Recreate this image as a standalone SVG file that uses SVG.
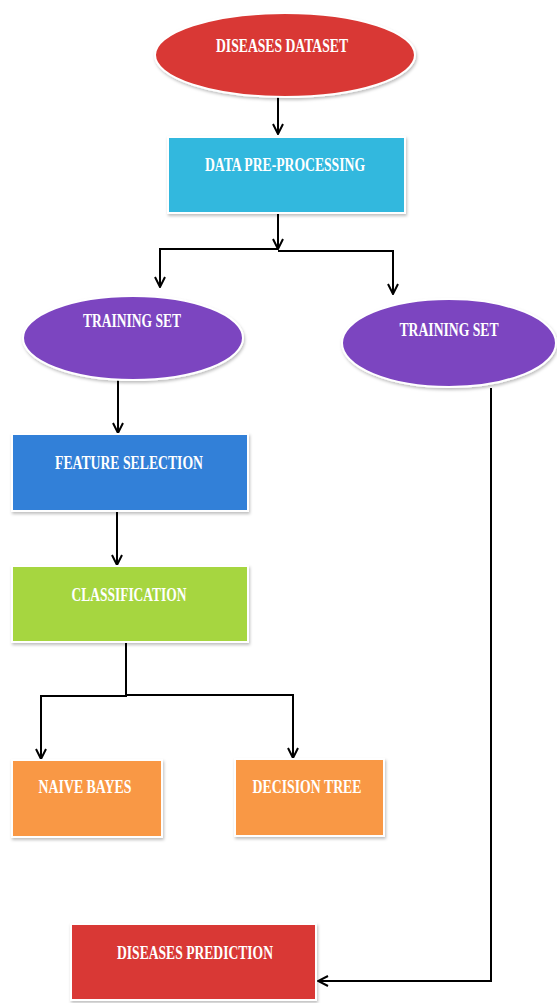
<svg xmlns="http://www.w3.org/2000/svg" width="557" height="1003" viewBox="0 0 557 1003">
  <style>
    .node { stroke: #ffffff; stroke-width: 2; filter: url(#shadow); }
    .lbl { font-family: "Liberation Serif", "Times New Roman", serif; font-weight: bold; font-size: 18px; fill: #ffffff; text-anchor: middle; }
    .wire { fill: none; stroke: #000000; stroke-width: 2; }
    .red { fill: #D93934; }
    .cyan { fill: #33B8DE; }
    .purple { fill: #7C45C0; }
    .blue { fill: #3380D8; }
    .green { fill: #A6D640; }
    .orange { fill: #F99844; }
  </style>
  <defs>
    <filter id="shadow" x="-10%" y="-10%" width="125%" height="130%">
      <feDropShadow dx="1" dy="2" stdDeviation="1.5" flood-color="#000000" flood-opacity="0.25"/>
    </filter>
    <marker id="arrow" viewBox="0 0 12 12" refX="11" refY="6" markerWidth="12" markerHeight="12" markerUnits="userSpaceOnUse" orient="auto">
      <path d="M1,1 L11,6 L1,11" fill="none" stroke="#000000" stroke-width="2"/>
    </marker>
  </defs>

  <rect width="557" height="1003" fill="#ffffff"/>

  <g id="connectors">
    <path class="wire" d="M278,97 V134" marker-end="url(#arrow)"/>
    <path class="wire" d="M278,213 V249" marker-end="url(#arrow)"/>
    <path class="wire" d="M160,287 V249 H278"/>
    <path class="wire" d="M160,249 V287" marker-end="url(#arrow)"/>
    <path class="wire" d="M278,251 H393 V294" marker-end="url(#arrow)"/>
    <path class="wire" d="M118,380 V433" marker-end="url(#arrow)"/>
    <path class="wire" d="M117,511 V565" marker-end="url(#arrow)"/>
    <path class="wire" d="M126,642 V696 H41 V759" marker-end="url(#arrow)"/>
    <path class="wire" d="M126,695 H293 V758" marker-end="url(#arrow)"/>
    <path class="wire" d="M491,388 V981 H318" marker-end="url(#arrow)"/>
  </g>

  <g id="diseases-dataset">
    <ellipse class="node red" cx="285" cy="55" rx="130" ry="42"/>
    <text class="lbl" x="282" y="52" textLength="132" lengthAdjust="spacingAndGlyphs">DISEASES DATASET</text>
  </g>

  <g id="data-pre-processing">
    <rect class="node cyan" x="168" y="137" width="237" height="76"/>
    <text class="lbl" x="285" y="171" textLength="160" lengthAdjust="spacingAndGlyphs">DATA PRE-PROCESSING</text>
  </g>

  <g id="training-set-left">
    <ellipse class="node purple" cx="133" cy="338" rx="110" ry="42"/>
    <text class="lbl" x="132" y="327" textLength="98" lengthAdjust="spacingAndGlyphs">TRAINING SET</text>
  </g>

  <g id="training-set-right">
    <ellipse class="node purple" cx="449" cy="343" rx="107" ry="44"/>
    <text class="lbl" x="449" y="336" textLength="99" lengthAdjust="spacingAndGlyphs">TRAINING SET</text>
  </g>

  <g id="feature-selection">
    <rect class="node blue" x="12" y="434" width="236" height="77"/>
    <text class="lbl" x="129" y="469" textLength="148" lengthAdjust="spacingAndGlyphs">FEATURE SELECTION</text>
  </g>

  <g id="classification">
    <rect class="node green" x="12" y="566" width="236" height="76"/>
    <text class="lbl" x="129" y="601" textLength="115" lengthAdjust="spacingAndGlyphs">CLASSIFICATION</text>
  </g>

  <g id="naive-bayes">
    <rect class="node orange" x="12" y="760" width="150" height="77"/>
    <text class="lbl" x="85" y="793" textLength="93" lengthAdjust="spacingAndGlyphs">NAIVE BAYES</text>
  </g>

  <g id="decision-tree">
    <rect class="node orange" x="235" y="759" width="149" height="77"/>
    <text class="lbl" x="307" y="793" textLength="109" lengthAdjust="spacingAndGlyphs">DECISION TREE</text>
  </g>

  <g id="diseases-prediction">
    <rect class="node red" x="71" y="924" width="245" height="76"/>
    <text class="lbl" x="195" y="959" textLength="156" lengthAdjust="spacingAndGlyphs">DISEASES PREDICTION</text>
  </g>
</svg>
